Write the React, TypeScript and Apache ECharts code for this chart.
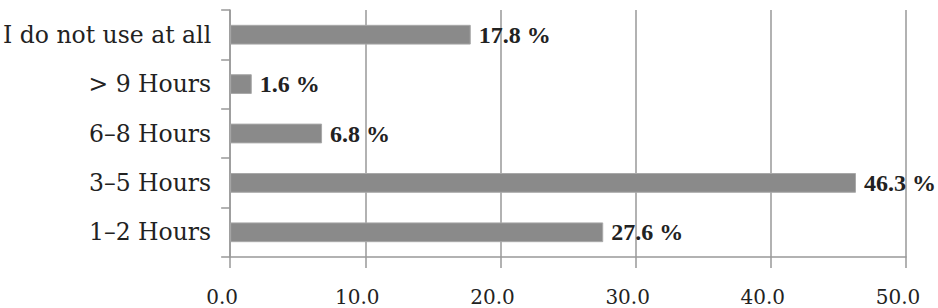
import React, { useEffect, useRef } from "react";
import * as echarts from "echarts";

const categories = ["1–2 Hours", "3–5 Hours", "6–8 Hours", "> 9 Hours", "I do not use at all"];
const values = [27.6, 46.3, 6.8, 1.6, 17.8];
const xMin = 0;
const xMax = 50;
const xInterval = 10;

export default function App() {
  const ref = useRef<HTMLDivElement>(null);
  useEffect(() => {
    if (!ref.current) return;
    const chart = echarts.init(ref.current, null, { renderer: "svg" });
    chart.setOption({
      animation: false,
      grid: { left: 229, right: 32, top: 10, bottom: 51, containLabel: false },
      xAxis: {
        type: "value",
        min: xMin,
        max: xMax,
        interval: xInterval,
        axisLine: { show: true, lineStyle: { color: "#999", width: 1.5 } },
        axisTick: { show: true, length: 11, lineStyle: { color: "#999", width: 1.5 } },
        splitLine: { show: true, lineStyle: { color: "#999", width: 1.5 } },
        axisLabel: {
          formatter: (v: number) => v.toFixed(1),
          fontFamily: "DejaVu Serif",
          fontSize: 20,
          color: "#222",
          margin: 30,
          padding: [0, 16, 0, 0],
        },
      },
      yAxis: {
        type: "category",
        data: categories,
        axisLine: { show: true, lineStyle: { color: "#999", width: 1.5 } },
        axisTick: { show: true, length: 9, lineStyle: { color: "#999", width: 1.5 } },
        axisLabel: {
          fontFamily: "DejaVu Serif",
          fontSize: 23.5,
          color: "#222",
          margin: 19,
        },
      },
      series: [
        {
          type: "bar",
          data: values,
          barCategoryGap: "60%",
          itemStyle: { color: "#8a8a8a", borderColor: "#a8a8a8", borderWidth: 1 },
          label: {
            show: true,
            position: "right",
            distance: 8,
            formatter: (p: any) => p.value.toFixed(1) + " %",
            fontFamily: "Liberation Serif",
            fontWeight: "bold",
            fontSize: 24,
            color: "#222",
          },
        },
      ],
    });
    return () => chart.dispose();
  }, []);
  return <div ref={ref} style={{ width: 938, height: 308, position: "absolute", left: 0, top: 0 }} />;
}
